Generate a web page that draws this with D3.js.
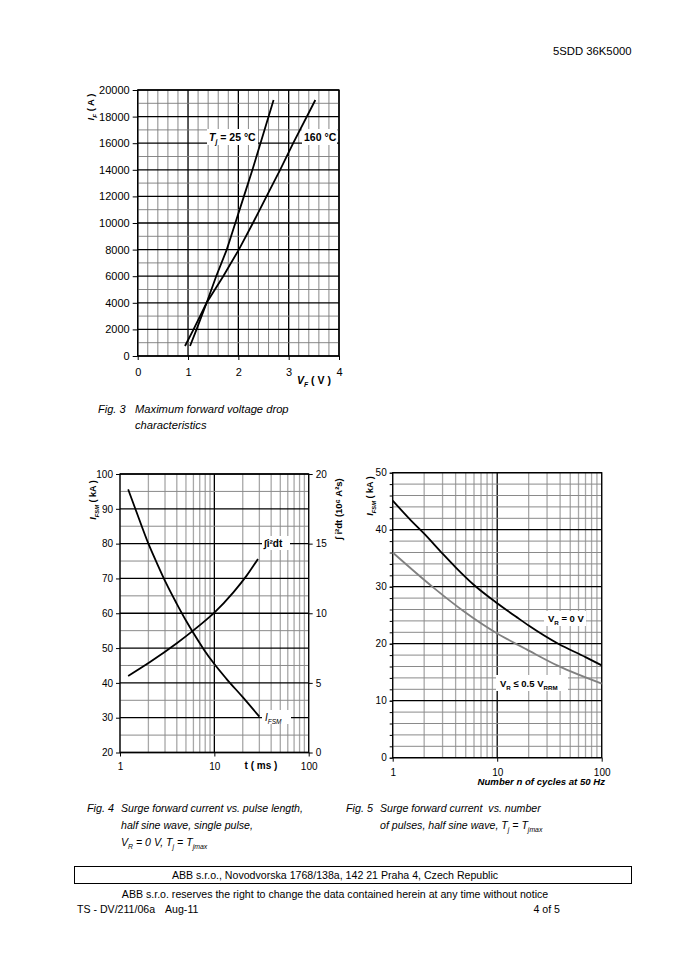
<!DOCTYPE html>
<html><head><meta charset="utf-8">
<script src="https://cdn.jsdelivr.net/npm/d3@7"></script>
<style>
body{margin:0;background:#fff}
svg{display:block}
text{font-family:"Liberation Sans",Arial,Helvetica,sans-serif;fill:#000;white-space:pre}
</style>
</head><body>
<svg id="c" width="679" height="960"></svg>
<script>
// ---------- DATA ----------
// Fig. 3 : forward characteristic
const fig3VoltTicks = [0, 1, 2, 3, 4];
const fig3CurrTicks = [0, 2000, 4000, 6000, 8000, 10000, 12000, 14000, 16000, 18000, 20000];
const fig3Tj25Volt = [1.04, 1.17, 1.37, 1.56, 1.77, 1.94, 2.11, 2.28, 2.44, 2.70];
const fig3Tj25Curr = [750, 2000, 4000, 6000, 8000, 10000, 12000, 14000, 16000, 19250];
const fig3Tj160Volt = [0.94, 1.11, 1.37, 1.70, 2.01, 2.29, 2.56, 2.83, 3.09, 3.53];
const fig3Tj160Curr = [750, 2000, 4000, 6000, 8000, 10000, 12000, 14000, 16000, 19250];

// Fig. 4 : surge current vs pulse length
const fig4TimeTicks = [1, 10, 100];
const fig4IfsmTicks = [20, 30, 40, 50, 60, 70, 80, 90, 100];
const fig4I2tTicks = [0, 5, 10, 15, 20];
const fig4IfsmTime = [1.22, 1.45, 2.0, 2.5, 3.1, 4.0, 5.0, 6.0, 7.6, 10, 13.5, 20, 30];
const fig4IfsmVal  = [95.6, 90.1, 80.0, 74.0, 68.5, 62.7, 57.9, 54.3, 49.9, 45.4, 41.1, 35.9, 30.3];
const fig4I2tTime = [1.22, 2.08, 4.0, 6.0, 8.3, 10, 15.9, 22, 29];
const fig4I2tVal  = [5.5, 6.5, 7.85, 8.77, 9.56, 10.05, 11.5, 12.7, 13.9];

// Fig. 5 : surge current vs number of cycles
const fig5CycleTicks = [1, 10, 100];
const fig5IfsmTicks = [0, 10, 20, 30, 40, 50];
const fig5Vr0Cycles = [1, 1.5, 2, 3, 4, 6, 10, 15.8, 20, 38.4, 70, 100];
const fig5Vr0Ifsm   = [45.1, 41.6, 39.3, 35.8, 33.4, 30.3, 27.1, 24.5, 23.2, 20.0, 17.65, 16.2];
const fig5VrHalfCycles = [1, 2.47, 4.78, 10, 15.8, 19.1, 38.4, 100];
const fig5VrHalfIfsm   = [36.0, 29.8, 25.7, 21.8, 19.8, 19.0, 16.1, 13.0];

// ---------- HELPERS ----------
const svg = d3.select('#c');
svg.append('rect').attr('width', 679).attr('height', 960).attr('fill', '#fff');

function rich(g, x, y, parts, o = {}) {
  const t = g.append('text').attr('x', x).attr('y', y)
    .attr('font-size', o.size || 11)
    .attr('font-weight', o.bold ? 'bold' : null)
    .attr('font-style', o.italic ? 'italic' : null)
    .attr('text-anchor', o.anchor || 'start');
  if (o.transform) t.attr('transform', o.transform);
  let shifted = 0;
  parts.forEach(p => {
    if (typeof p === 'string') p = { t: p };
    const ts = t.append('tspan').text(p.t);
    if (p.i) ts.attr('font-style', 'italic');
    if (p.sub) {
      ts.attr('font-size', (o.size || 11) * 0.65).attr('dy', 2.5 - shifted); shifted = 2.5;
    } else if (shifted) { ts.attr('dy', -shifted); shifted = 0; }
  });
  return t;
}
function box(g, x, y, w, h) {
  g.append('rect').attr('x', x).attr('y', y).attr('width', w).attr('height', h).attr('fill', '#fff');
}
function styleAxis(a, size) {
  a.select('.domain').remove();
  a.selectAll('.tick line').attr('stroke', '#000').attr('stroke-width', 1);
  a.selectAll('.tick text').attr('font-size', size).attr('font-family', '"Liberation Sans",Arial,sans-serif').attr('fill', '#000');
}

// ---------- HEADER ----------
svg.append('text').attr('x', 553).attr('y', 55).attr('font-size', 11.3).text('5SDD 36K5000');

// ---------- FIG 3 ----------
{
  const g = svg.append('g');
  const x = d3.scaleLinear().domain([0, 4]).range([137.7, 339]);
  const y = d3.scaleLinear().domain([0, 20000]).range([356, 90]);
  const minorX = d3.range(0, 4.0001, 0.2), minorY = d3.range(0, 20001, 1000);
  const isInt = d => Math.abs(d - Math.round(d)) < 1e-6;
  g.selectAll('.mx').data(minorX).join('line')
    .attr('x1', d => x(d)).attr('x2', d => x(d)).attr('y1', y(0)).attr('y2', y(20000))
    .attr('stroke', d => isInt(d) ? '#000' : '#7a7a7a')
    .attr('stroke-width', d => isInt(d) ? 1.3 : 0.9);
  g.selectAll('.my').data(minorY).join('line')
    .attr('x1', x(0)).attr('x2', x(4)).attr('y1', d => y(d)).attr('y2', d => y(d))
    .attr('stroke', d => d % 2000 === 0 ? '#000' : '#7a7a7a')
    .attr('stroke-width', d => d % 2000 === 0 ? 1.3 : 0.9);
  g.append('rect').attr('x', x(0)).attr('y', y(20000)).attr('width', x(4) - x(0)).attr('height', y(0) - y(20000))
    .attr('fill', 'none').attr('stroke', '#000').attr('stroke-width', 1.3);
  const ax = g.append('g').attr('transform', `translate(0,${y(0)})`)
    .call(d3.axisBottom(x).tickValues(fig3VoltTicks).tickSize(4).tickPadding(8).tickFormat(d3.format('d')));
  styleAxis(ax, 11);
  const ay = g.append('g').attr('transform', `translate(${x(0)},0)`)
    .call(d3.axisLeft(y).tickValues(fig3CurrTicks).tickSize(5).tickPadding(3).tickFormat(d3.format('d')));
  styleAxis(ay, 11);

  const line = d3.line().x(d => x(d[0])).y(d => y(d[1]));
  const s25 = fig3Tj25Volt.map((v, i) => [v, fig3Tj25Curr[i]]);
  const s160 = fig3Tj160Volt.map((v, i) => [v, fig3Tj160Curr[i]]);
  [s25, s160].forEach(s => g.append('path').attr('d', line(s)).attr('fill', 'none')
    .attr('stroke', '#000').attr('stroke-width', 1.8));

  box(g, 207, 129, 51, 16);
  rich(g, 209, 141, [{ t: 'T', i: 1 }, { t: 'j', i: 1, sub: 1 }, ' = 25 °C'], { bold: 1, size: 10.5 });
  box(g, 302, 129, 35, 16);
  rich(g, 304, 141, ['160 °C'], { bold: 1, size: 10.5 });

  rich(g, 94, 107, [{ t: 'I', i: 1 }, { t: 'F', i: 1, sub: 1 }, ' ( A )'], { bold: 1, size: 9.5, anchor: 'middle', transform: 'rotate(-90,94,107)' });
  rich(g, 297, 384, [{ t: 'V', i: 1 }, { t: 'F', i: 1, sub: 1 }, ' ( V )'], { bold: 1, size: 10.5 });

  rich(g, 98, 413, ['Fig. 3'], { italic: 1, size: 11 });
  rich(g, 135, 413, ['Maximum forward voltage drop'], { italic: 1, size: 11.2 });
  rich(g, 135, 429, ['characteristics'], { italic: 1, size: 11.2 });
}

// ---------- FIG 4 ----------
{
  const g = svg.append('g');
  const x = d3.scaleLog().domain([1, 100]).range([120, 308.7]);
  const yL = d3.scaleLinear().domain([20, 100]).range([752.5, 474]);
  const yR = d3.scaleLinear().domain([0, 20]).range([752.5, 474]);
  const vx = x.ticks();
  g.selectAll('.vx').data(vx).join('line')
    .attr('x1', d => x(d)).attr('x2', d => x(d)).attr('y1', yL(20)).attr('y2', yL(100))
    .attr('stroke', d => d === 10 ? '#000' : '#a8a8a8')
    .attr('stroke-width', 1.3);
  const hy = d3.range(20, 100.1, 5);
  g.selectAll('.hy').data(hy).join('line')
    .attr('x1', x(1)).attr('x2', x(100)).attr('y1', d => yL(d)).attr('y2', d => yL(d))
    .attr('stroke', d => d % 10 === 0 ? '#000' : '#8a8a8a')
    .attr('stroke-width', d => d % 10 === 0 ? 1.3 : 1);
  g.append('rect').attr('x', x(1)).attr('y', yL(100)).attr('width', x(100) - x(1)).attr('height', yL(20) - yL(100))
    .attr('fill', 'none').attr('stroke', '#000').attr('stroke-width', 1.3);
  const ax = g.append('g').attr('transform', `translate(0,${yL(20)})`)
    .call(d3.axisBottom(x).tickValues(fig4TimeTicks).tickSize(4).tickPadding(6).tickFormat(d3.format('d')));
  styleAxis(ax, 10);
  const ayl = g.append('g').attr('transform', `translate(${x(1)},0)`)
    .call(d3.axisLeft(yL).tickValues(fig4IfsmTicks).tickSize(4).tickPadding(3).tickFormat(d3.format('d')));
  styleAxis(ayl, 10);
  const ayr = g.append('g').attr('transform', `translate(${x(100)},0)`)
    .call(d3.axisRight(yR).tickValues(fig4I2tTicks).tickSize(4).tickPadding(3).tickFormat(d3.format('d')));
  styleAxis(ayr, 10);

  const lineL = d3.line().x(d => x(d[0])).y(d => yL(d[1])).curve(d3.curveMonotoneX);
  const lineR = d3.line().x(d => x(d[0])).y(d => yR(d[1])).curve(d3.curveMonotoneX);
  g.append('path').attr('d', lineL(fig4IfsmTime.map((t, i) => [t, fig4IfsmVal[i]])))
    .attr('fill', 'none').attr('stroke', '#000').attr('stroke-width', 1.8);
  g.append('path').attr('d', lineR(fig4I2tTime.map((t, i) => [t, fig4I2tVal[i]])))
    .attr('fill', 'none').attr('stroke', '#000').attr('stroke-width', 1.8);

  box(g, 262, 536, 28, 14);
  rich(g, 264, 547, ['∫i²dt'], { bold: 1, size: 10 });
  box(g, 262, 710, 29, 14);
  rich(g, 265, 721, [{ t: 'I', i: 1 }, { t: 'FSM', i: 1, sub: 1 }], { size: 10 });

  rich(g, 96, 500, [{ t: 'I', i: 1 }, { t: 'FSM', i: 1, sub: 1 }, ' ( kA )'], { bold: 1, size: 9, anchor: 'middle', transform: 'rotate(-90,96,500)' });
  rich(g, 342, 509, ['∫ i²dt (10⁶ A²s)'], { bold: 1, size: 9.5, anchor: 'middle', transform: 'rotate(-90,342,509)' });
  rich(g, 261, 769, ['t ( ms )'], { bold: 1, size: 10, anchor: 'middle' });

  rich(g, 87, 812, ['Fig. 4'], { italic: 1, size: 10.8 });
  rich(g, 121, 812, ['Surge forward current vs. pulse length,'], { italic: 1, size: 10.6 });
  rich(g, 121, 829, ['half sine wave, single pulse,'], { italic: 1, size: 10.6 });
  rich(g, 121, 846, ['V', { t: 'R', sub: 1 }, ' = 0 V, T', { t: 'j', sub: 1 }, ' = T', { t: 'jmax', sub: 1 }], { italic: 1, size: 10.6 });
}

// ---------- FIG 5 ----------
{
  const g = svg.append('g');
  const x = d3.scaleLog().domain([1, 100]).range([392.7, 601.7]);
  const y = d3.scaleLinear().domain([0, 50]).range([757.7, 472.7]);
  const vx = x.ticks();
  g.selectAll('.vx').data(vx).join('line')
    .attr('x1', d => x(d)).attr('x2', d => x(d)).attr('y1', y(0)).attr('y2', y(50))
    .attr('stroke', d => d === 10 ? '#000' : '#a8a8a8')
    .attr('stroke-width', 1.3);
  const hy = d3.range(0, 50.1, 2);
  g.selectAll('.hy').data(hy).join('line')
    .attr('x1', x(1)).attr('x2', x(100)).attr('y1', d => y(d)).attr('y2', d => y(d))
    .attr('stroke', d => d % 10 === 0 ? '#000' : '#8a8a8a')
    .attr('stroke-width', d => d % 10 === 0 ? 1.3 : 1);
  g.append('rect').attr('x', x(1)).attr('y', y(50)).attr('width', x(100) - x(1)).attr('height', y(0) - y(50))
    .attr('fill', 'none').attr('stroke', '#000').attr('stroke-width', 1.3);
  const ax = g.append('g').attr('transform', `translate(0,${y(0)})`)
    .call(d3.axisBottom(x).tickValues(fig5CycleTicks).tickSize(4).tickPadding(7).tickFormat(d3.format('d')));
  styleAxis(ax, 10);
  const aym = g.append('g').attr('transform', `translate(${x(1)},0)`)
    .call(d3.axisLeft(y).tickValues(hy).tickSize(3).tickFormat(''));
  styleAxis(aym, 10);
  const ay = g.append('g').attr('transform', `translate(${x(1)},0)`)
    .call(d3.axisLeft(y).tickValues(fig5IfsmTicks).tickSize(3).tickPadding(3).tickFormat(d3.format('d')));
  styleAxis(ay, 10);

  const line = d3.line().x(d => x(d[0])).y(d => y(d[1])).curve(d3.curveMonotoneX);
  g.append('path').attr('d', line(fig5VrHalfCycles.map((n, i) => [n, fig5VrHalfIfsm[i]])))
    .attr('fill', 'none').attr('stroke', '#808080').attr('stroke-width', 1.8);
  g.append('path').attr('d', line(fig5Vr0Cycles.map((n, i) => [n, fig5Vr0Ifsm[i]])))
    .attr('fill', 'none').attr('stroke', '#000').attr('stroke-width', 1.8);

  box(g, 544, 611, 42, 15);
  rich(g, 548, 622, ['V', { t: 'R', sub: 1 }, ' = 0 V'], { bold: 1, size: 9.5 });
  box(g, 496, 675, 72, 16);
  rich(g, 500, 687, ['V', { t: 'R', sub: 1 }, ' ≤ 0.5 V', { t: 'RRM', sub: 1 }], { bold: 1, size: 9.5 });

  rich(g, 373, 496, [{ t: 'I', i: 1 }, { t: 'FSM', i: 1, sub: 1 }, ' ( kA )'], { bold: 1, size: 9, anchor: 'middle', transform: 'rotate(-90,373,496)' });
  rich(g, 605, 785, ['Number n of cycles at 50 Hz'], { bold: 1, italic: 1, size: 9.6, anchor: 'end' });

  rich(g, 346, 812, ['Fig. 5'], { italic: 1, size: 10.8 });
  rich(g, 380, 812, ['Surge forward current  vs. number'], { italic: 1, size: 10.6 });
  rich(g, 380, 829, ['of pulses, half sine wave, T', { t: 'j', sub: 1 }, ' = T', { t: 'jmax', sub: 1 }], { italic: 1, size: 10.6 });
}

// ---------- FOOTER ----------
svg.append('rect').attr('x', 74.5).attr('y', 866.5).attr('width', 557).attr('height', 17)
  .attr('fill', 'none').attr('stroke', '#000').attr('stroke-width', 1);
svg.append('text').attr('x', 335).attr('y', 879).attr('text-anchor', 'middle').attr('font-size', 10.6)
  .text('ABB s.r.o., Novodvorska 1768/138a, 142 21 Praha 4, Czech Republic');
svg.append('text').attr('x', 335).attr('y', 898).attr('text-anchor', 'middle').attr('font-size', 10.6)
  .text('ABB s.r.o. reserves the right to change the data contained herein at any time without notice');
svg.append('text').attr('x', 77).attr('y', 913).attr('font-size', 10.6).text('TS - DV/211/06a');
svg.append('text').attr('x', 165).attr('y', 913).attr('font-size', 10.6).text('Aug-11');
svg.append('text').attr('x', 560).attr('y', 913).attr('text-anchor', 'end').attr('font-size', 10.6).text('4 of 5');
</script>
</body></html>
